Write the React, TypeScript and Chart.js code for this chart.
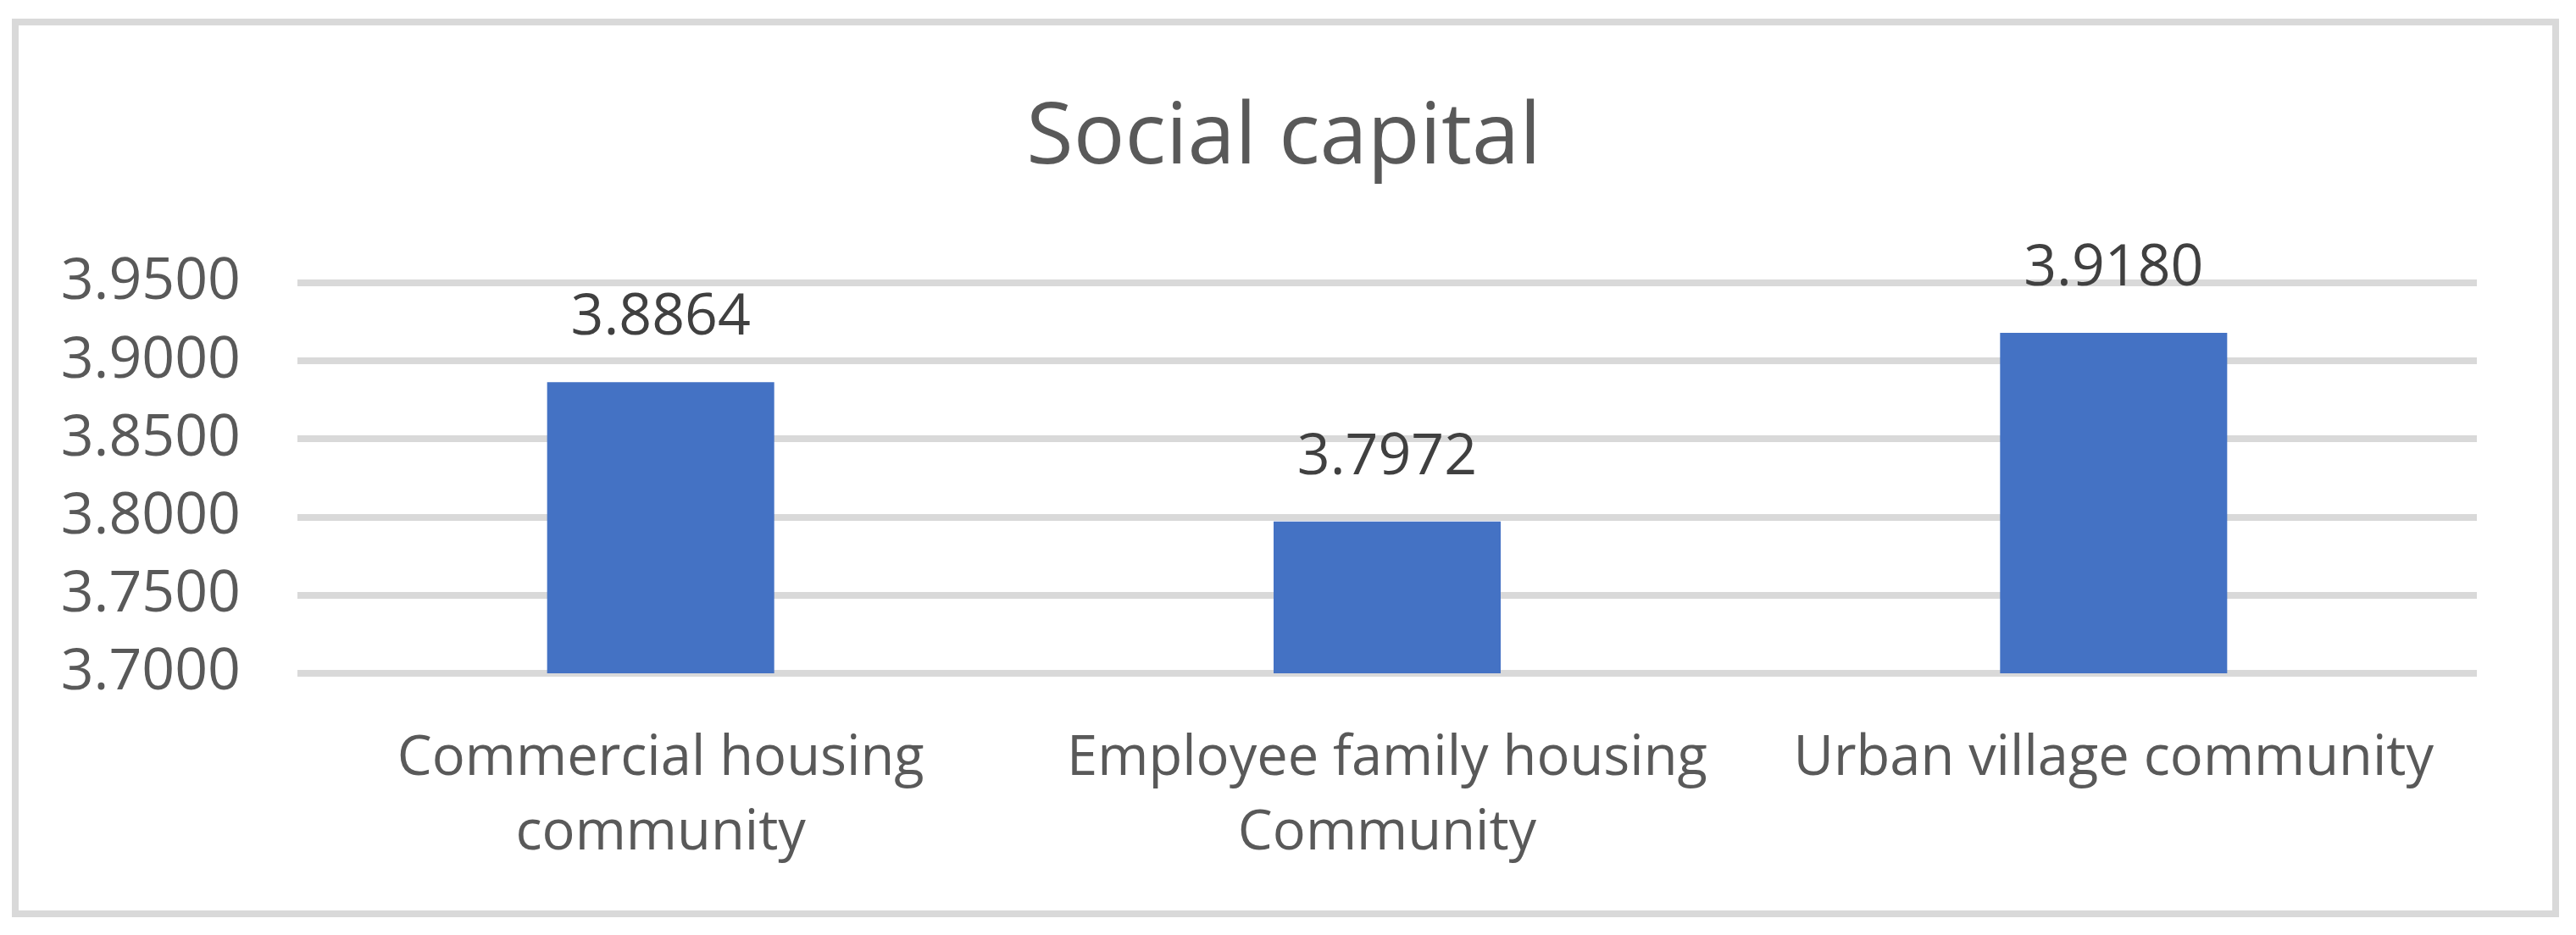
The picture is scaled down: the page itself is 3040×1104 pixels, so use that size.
import React, { useEffect, useRef } from "react";
import { Chart, registerables } from "chart.js";

Chart.register(...registerables);

const chartTitle = "Social capital";
const categories: (string | string[])[] = [
  ["Commercial housing", "community"],
  ["Employee family housing", "Community"],
  "Urban village community",
];
const values = [3.8864, 3.7972, 3.918];
const yMin = 3.7;
const yMax = 3.95;
const yStep = 0.05;

const FONT = "'Open Sans', 'Noto Sans', sans-serif";

const framePlugin = {
  id: "frame",
  beforeDraw(chart: any) {
    const ctx = chart.ctx;
    ctx.save();
    ctx.fillStyle = "#ffffff";
    ctx.fillRect(0, 0, chart.width, chart.height);
    ctx.strokeStyle = "#d9d9d9";
    ctx.lineWidth = 8;
    ctx.strokeRect(18, 26, 2998, 1053);
    ctx.restore();
  },
};

const valueLabelPlugin = {
  id: "valueLabels",
  afterDatasetsDraw(chart: any) {
    const ctx = chart.ctx;
    const meta = chart.getDatasetMeta(0);
    const data = chart.data.datasets[0].data as number[];
    ctx.save();
    ctx.fillStyle = "#404040";
    ctx.font = `normal 68px ${FONT}`;
    ctx.textAlign = "center";
    ctx.textBaseline = "alphabetic";
    meta.data.forEach((bar: any, i: number) => {
      ctx.fillText(Number(data[i]).toFixed(4), bar.x, bar.y - 56);
    });
    ctx.restore();
  },
};

export default function App() {
  const canvasRef = useRef<HTMLCanvasElement | null>(null);

  useEffect(() => {
    if (!canvasRef.current) return;
    const chart = new Chart(canvasRef.current, {
      type: "bar",
      data: {
        labels: categories,
        datasets: [
          {
            data: values,
            backgroundColor: "#4472C4",
            borderWidth: 0,
            barPercentage: 0.3126,
            categoryPercentage: 1,
          },
        ],
      },
      options: {
        responsive: false,
        animation: false,
        devicePixelRatio: 1,
        layout: { padding: { left: 0, right: 10, top: 0, bottom: 0 } },
        plugins: {
          legend: { display: false },
          tooltip: { enabled: false },
          title: {
            display: true,
            text: chartTitle,
            color: "#595959",
            font: { family: FONT, size: 101, weight: "normal", lineHeight: 1.2 },
            padding: { top: 104, bottom: 108.8 },
          },
        },
        scales: {
          x: {
            grid: { display: false, drawTicks: false },
            border: { display: false },
            ticks: {
              color: "#595959",
              padding: 57,
              maxRotation: 0,
              minRotation: 0,
              autoSkip: false,
              font: { family: FONT, size: 65, lineHeight: 1.354 },
            },
            afterFit: (s: any) => {
              s.height = 309;
            },
          },
          y: {
            min: yMin,
            max: yMax,
            grid: { color: "#d9d9d9", lineWidth: 8, drawTicks: false },
            border: { display: false },
            ticks: {
              stepSize: yStep,
              color: "#595959",
              padding: 67,
              font: { family: FONT, size: 68 },
              callback: (v: any) => Number(v).toFixed(4),
            },
            afterFit: (s: any) => {
              s.width = 351;
            },
          },
          yRight: {
            position: "right",
            display: true,
            min: yMin,
            max: yMax,
            grid: { display: false, drawTicks: false },
            border: { display: false },
            ticks: { display: false },
            afterFit: (s: any) => {
              s.width = 107;
            },
          },
        },
      },
      plugins: [framePlugin, valueLabelPlugin],
    });
    return () => chart.destroy();
  }, []);

  return (
    <div style={{ position: "absolute", left: 0, top: 0, width: 3040, height: 1104 }}>
      <canvas ref={canvasRef} width={3040} height={1104} style={{ display: "block" }} />
    </div>
  );
}
